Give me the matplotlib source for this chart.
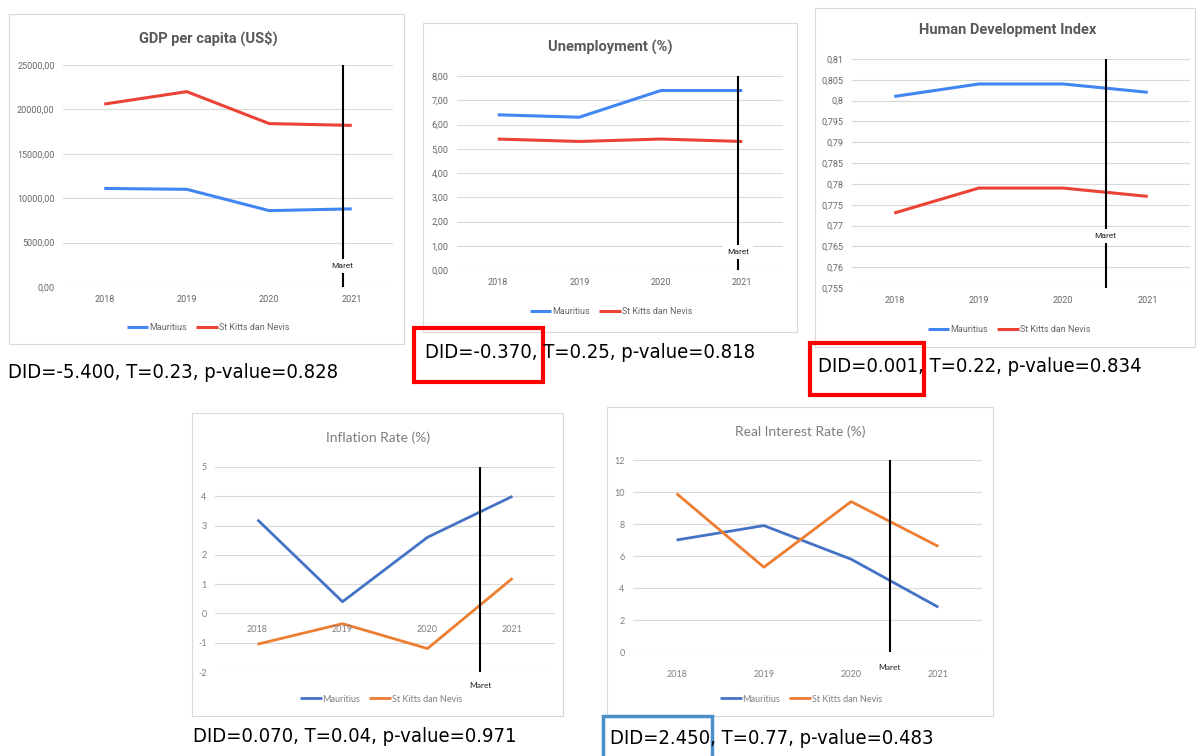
import numpy as np
import matplotlib
matplotlib.use('Agg')
import matplotlib.pyplot as plt
from matplotlib.patches import Rectangle
from matplotlib.ticker import FuncFormatter

W, H = 1198, 756

years = ['2018', '2019', '2020', '2021']
series_names = ['Mauritius', 'St Kitts dan Nevis']

gdp_mauritius = [11100, 11000, 8600, 8800]
gdp_stkitts = [20600, 22000, 18400, 18200]

unemp_mauritius = [6.4, 6.3, 7.4, 7.4]
unemp_stkitts = [5.4, 5.3, 5.4, 5.3]

hdi_mauritius = [0.801, 0.804, 0.804, 0.802]
hdi_stkitts = [0.773, 0.779, 0.779, 0.777]

infl_mauritius = [3.2, 0.4, 2.6, 4.0]
infl_stkitts = [-1.05, -0.35, -1.2, 1.2]

rir_mauritius = [7.0, 7.9, 5.8, 2.8]
rir_stkitts = [9.9, 5.3, 9.4, 6.6]

did_texts = ['DID=-5.400, T=0.23, p-value=0.828',
             'DID=-0.370, T=0.25, p-value=0.818',
             'DID=0.001, T=0.22, p-value=0.834',
             'DID=0.070, T=0.04, p-value=0.971',
             'DID=2.450, T=0.77, p-value=0.483']

gs_colors = ['#4285F4', '#EA4335']
xl_colors = ['#4472C4', '#ED7D31']


def fx(x):
    return x / W


def fy(y):
    return 1 - y / H


def box(x0, y0, x1, y1):
    return [fx(x0), fy(y1), (x1 - x0) / W, (y1 - y0) / H]


def comma(fmt):
    return FuncFormatter(lambda v, p: (fmt % np.round(v, 6)).replace('.', ','))


fig = plt.figure(figsize=(W / 100, H / 100), dpi=100)


def frame(x0, y0, x1, y1, color='#d9d9d9', lw=0.8):
    fig.patches.append(Rectangle((fx(x0), fy(y1)), (x1 - x0) / W, (y1 - y0) / H,
                                 transform=fig.transFigure, fill=False,
                                 ec=color, lw=lw, zorder=0))


def chart(rect, vals, colors, ylim, yticks, yfmt, font, tcolor, title, title_xy,
          title_kw, leg_xy, vline_x, maret_y, lw):
    ax = fig.add_axes(rect)
    x = np.arange(len(years))
    for v, c, n in zip(vals, colors, series_names):
        ax.plot(x, v, color=c, lw=lw, label=n, solid_capstyle='butt', zorder=3)
    ax.set_xlim(-0.5, 3.5)
    ax.set_ylim(*ylim)
    ax.set_yticks(yticks)
    ax.yaxis.set_major_formatter(yfmt)
    ax.grid(axis='y', color='#d9d9d9', lw=0.8)
    ax.set_axisbelow(True)
    for s in ax.spines.values():
        s.set_visible(False)
    ax.tick_params(length=0, labelsize=6.5, labelcolor=tcolor, pad=6)
    for t in ax.get_yticklabels():
        t.set_family(font)
    ax.axvline(vline_x, color='black', lw=1.5, zorder=4)
    ax.text(vline_x, maret_y, 'Maret', ha='center', va='center', fontsize=6,
            family=font, color='#222222', zorder=5, clip_on=False,
            bbox=dict(fc='white', ec='none', pad=3))
    fig.text(fx(title_xy[0]), fy(title_xy[1]), title, ha='center', va='center',
             family=font, **title_kw)
    ax.legend(loc='center', bbox_to_anchor=(fx(leg_xy[0]), fy(leg_xy[1])),
              bbox_transform=fig.transFigure, ncol=2, frameon=False,
              handlelength=2.4, columnspacing=1.0,
              handletextpad=0.1, prop={'family': font, 'size': 6.5})
    for t in ax.get_legend().get_texts():
        t.set_color(tcolor)
    return ax


top_title = dict(fontsize=10.5, fontweight='bold', color='#595959')
bot_title = dict(fontsize=10, color='#7f7f7f')

# top row (Google Sheets style)
frame(9, 14, 404, 344)
ax1 = chart(box(63, 65, 393, 287), [gdp_mauritius, gdp_stkitts], gs_colors,
            (0, 25000), np.arange(0, 25001, 5000), comma('%.2f'), 'Roboto', '#666666',
            'GDP per capita (US$)', (208, 38), top_title, (208, 328), 2.89, 2350, 2.2)
ax1.set_xticks(range(4), years)
for t in ax1.get_xticklabels():
    t.set_family('Roboto')

frame(423, 23, 797, 332)
ax2 = chart(box(457, 76, 783, 270), [unemp_mauritius, unemp_stkitts], gs_colors,
            (0, 8), np.arange(0, 8.01, 1), comma('%.2f'), 'Roboto', '#666666',
            'Unemployment (%)', (610, 47), top_title, (611, 312), 2.95, 0.74, 2.2)
ax2.set_xticks(range(4), years)
for t in ax2.get_xticklabels():
    t.set_family('Roboto')

frame(815, 8, 1195, 347)
ax3 = chart(box(852, 59, 1190, 288), [hdi_mauritius, hdi_stkitts], gs_colors,
            (0.755, 0.81), np.arange(0.755, 0.8101, 0.005), comma('%g'), 'Roboto', '#666666',
            'Human Development Index', (1008, 30), top_title, (1009, 330), 2.5, 0.7675, 2.2)
ax3.set_xticks(range(4), years)
for t in ax3.get_xticklabels():
    t.set_family('Roboto')

# bottom row (Excel style)
frame(192, 413, 563, 716)
ax4 = chart(box(215, 467, 555, 672), [infl_mauritius, infl_stkitts], xl_colors,
            (-2, 5), np.arange(-2, 6, 1), comma('%g'), 'Lato', '#7f7f7f',
            'Inflation Rate (%)', (378, 438), bot_title, (381, 699), 2.62, -2.45, 2.0)
ax4.set_xticks([])
for i, yr in enumerate(years):
    ax4.annotate(yr, (i, 0), xytext=(0, -8), textcoords='offset points',
                 ha='center', va='top', fontsize=6.5, color='#7f7f7f', family='Lato')

frame(607, 407, 993, 716)
ax5 = chart(box(633, 460, 982, 652), [rir_mauritius, rir_stkitts], xl_colors,
            (0, 12), np.arange(0, 13, 2), comma('%g'), 'Lato', '#7f7f7f',
            'Real Interest Rate (%)', (800, 432), bot_title, (801, 699), 2.44, -0.95, 2.0)
ax5.set_xticks(range(4), years)
ax5.tick_params(axis='x', pad=13)
for t in ax5.get_xticklabels():
    t.set_family('Lato')

# DID annotations
did_pos = [(8, 372), (425, 352), (818, 366), (193, 736), (610, 738)]
for (x, y), s in zip(did_pos, did_texts):
    fig.text(fx(x), fy(y), s, ha='left', va='center', fontsize=14.5,
             family='DejaVu Sans', fontstretch='condensed', color='black')

frame(414, 328, 543, 382, color='#ff0000', lw=3)
frame(810, 343, 924, 395, color='#ff0000', lw=3)
frame(603, 716, 712, 760, color='#4a90c8', lw=2.5)

fig.savefig('out.png', dpi=100)
